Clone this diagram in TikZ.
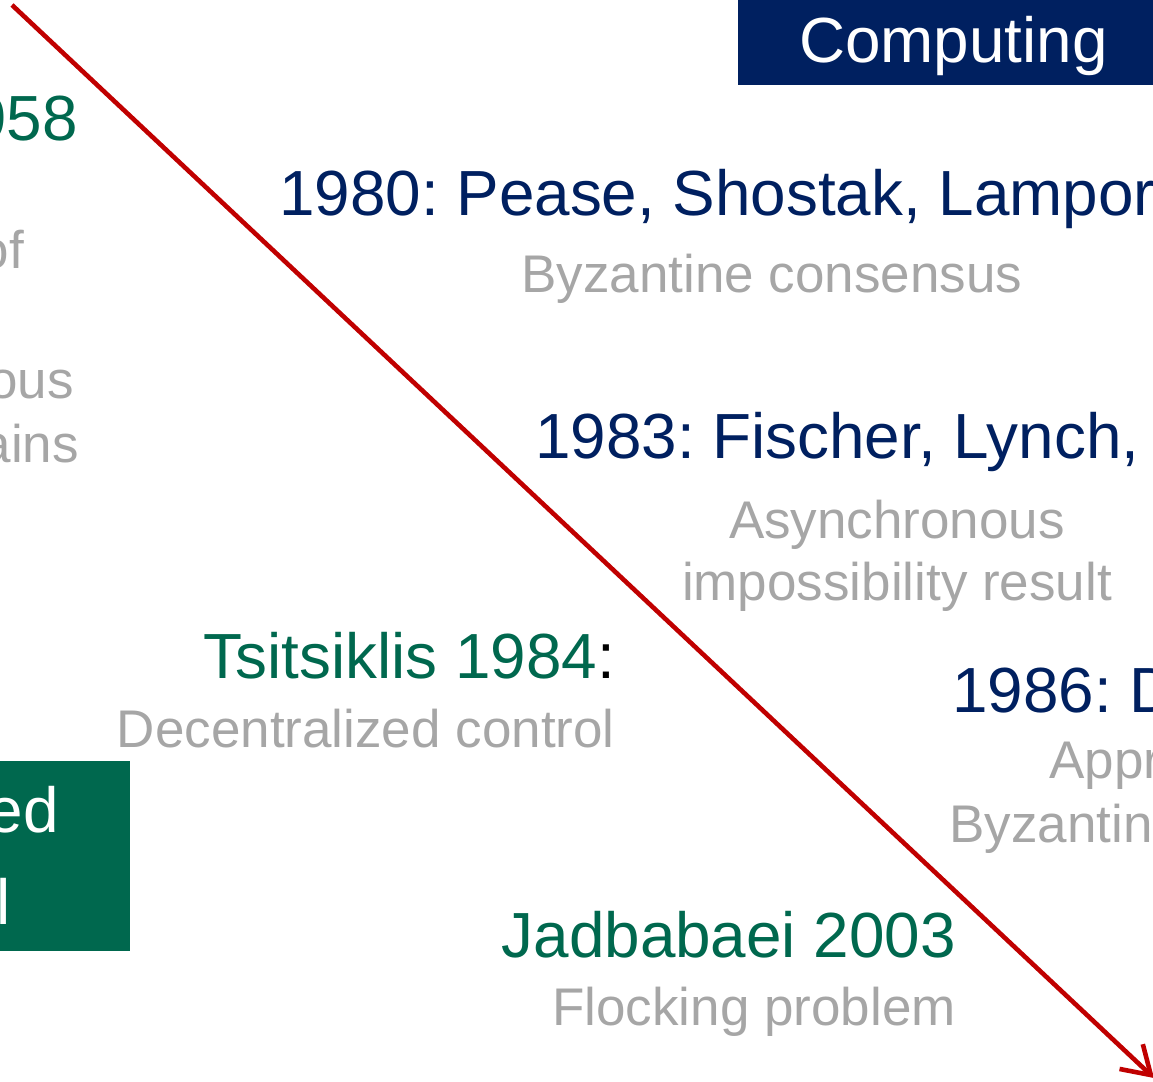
\documentclass[tikz,border=0pt]{standalone}
\usepackage{fontspec}
\setmainfont{Liberation Sans}
\frenchspacing
\usetikzlibrary{arrows.meta}
\definecolor{navy}{RGB}{0,32,96}
\definecolor{forest}{RGB}{0,104,78}
\definecolor{note}{RGB}{166,166,166}
\definecolor{arrowred}{RGB}{192,0,0}
\tikzset{
  big/.style={inner sep=0pt, font=\fontsize{63.8}{76}\selectfont},
  small/.style={inner sep=0pt, font=\fontsize{53}{62}\selectfont, text=note},
  comp/.style={big, text=navy},
  ctrl/.style={big, text=forest},
}
\begin{document}
\begin{tikzpicture}[x=1pt,y=-1pt]
\useasboundingbox (0,0) rectangle (1153,1081);
\clip (0,0) rectangle (1153,1081);

% coloured title boxes
\fill[navy] (738,-5) rectangle (1160,85);
\node[big, text=white, anchor=base west] (comptitle) at (799,63) {Computing};
\fill[forest] (-10,761) rectangle (130,951);
\node[big, text=white, anchor=base east] (ctrltitleA) at (59,832) {ed};
\node[big, text=white, anchor=base west] (ctrltitleB) at (-4,924) {l};

% control column (left)
\node[ctrl, anchor=base east] (yr58) at (78,140) {958};
\node[small, anchor=base east] (l58a) at (24,268) {of};
\node[small, anchor=base east] (l58b) at (74,398) {ous};
\node[small, anchor=base east] (l58c) at (79,462) {ains};

\node[big, anchor=base east] (tsit) at (615,678) {\textcolor{forest}{Tsitsiklis 1984}:};
\node[small, anchor=base east] (tsitnote) at (615,747) {Decentralized control};

\node[ctrl, anchor=base east] (jadb) at (956,957) {Jadbabaei 2003};
\node[small, anchor=base east] (jadbnote) at (956,1025) {Flocking problem};

% computing column (right)
\node[comp, anchor=base west] (psl) at (279,215) {1980: Pease, Shostak, Lamport};
\node[small, anchor=base] (pslnote) at (772,292) {Byzantine consensus};

\node[comp, anchor=base west] (flp) at (535,458) {1983: Fischer, Lynch,};
\node[small, anchor=base] (flpnoteA) at (897,538) {Asynchronous};
\node[small, anchor=base] (flpnoteB) at (897,600) {impossibility result};

\node[comp, anchor=base west] (dol) at (952,712) {1986: D};
\node[small, anchor=base west] (dolnoteA) at (1049,778) {Appr};
\node[small, anchor=base west] (dolnoteB) at (949,842) {Byzantin};

% time axis
\coordinate (tstart) at (12,5);
\coordinate (tend) at (1154,1078);
\draw[arrowred, line width=4.6pt, -{Straight Barb[length=27pt,width=34pt]}] (tstart) -- (tend);
\end{tikzpicture}
\end{document}
